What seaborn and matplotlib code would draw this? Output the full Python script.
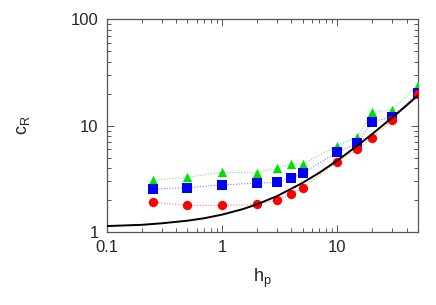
import numpy as np
import pandas as pd
import matplotlib
matplotlib.use("Agg")
import matplotlib.pyplot as plt
import seaborn as sns

# ==========================================================
# DATA
# ==========================================================

hp = [0.25, 0.5, 1, 2, 3, 4, 5, 10, 15, 20, 30, 50]

cr_red = [1.91, 1.78, 1.78, 1.82, 2.01, 2.29, 2.6, 4.6, 6.04, 7.66, 11.3, 19.8]
cr_blue = [2.53, 2.62, 2.78, 2.88, 2.94, 3.23, 3.57, 5.62, 6.83, 10.9, 12.0, 20.1]
cr_green = [3.07, 3.28, 3.65, 3.6, 4.0, 4.37, 4.34, 6.49, 7.88, 13.3, 14.1, 24.0]

curve_hp = [0.1, 0.2, 0.3, 0.5, 0.7, 1, 1.5, 2, 3, 5, 7, 10, 15, 20, 30, 40, 50]
curve_cr = [1.14, 1.17, 1.21, 1.28, 1.35, 1.46, 1.64, 1.82, 2.18, 2.9, 3.62, 4.7,
            6.5, 8.3, 11.9, 15.5, 19.1]

# ==========================================================
# PLOT
# ==========================================================

sns.set_style("ticks")
plt.rcParams["font.family"] = ["Liberation Sans", "DejaVu Sans"]
plt.rcParams["mathtext.fontset"] = "custom"
plt.rcParams["mathtext.rm"] = "Liberation Sans"

fig = plt.figure(figsize=(4.36, 3.05), dpi=100)
ax = fig.add_axes([0.2454, 0.239, 0.7126, 0.698])

series = [
    (cr_green, "#00e000", "^", "#7be07b"),
    (cr_blue, "#0000ff", "s", "#8080ff"),
    (cr_red, "#ff0000", "o", "#ff8080"),
]

for vals, col, mk, lcol in series:
    df = pd.DataFrame({"hp": hp, "cr": vals})
    sns.lineplot(data=df, x="hp", y="cr", ax=ax, color=lcol,
                 linestyle=(0, (1, 1.5)), linewidth=0.8, sort=False)
    sns.scatterplot(data=df, x="hp", y="cr", ax=ax, color=col, marker=mk,
                    s=45, edgecolor=col, linewidth=0, zorder=3)

curve = pd.DataFrame({"hp": curve_hp, "cr": curve_cr})
sns.lineplot(data=curve, x="hp", y="cr", ax=ax, color="black",
             linewidth=1.4, zorder=4)

ax.set_xscale("log")
ax.set_yscale("log")
ax.set_xlim(0.1, 50)
ax.set_ylim(1, 100)

ax.set_xticks([0.1, 1, 10])
ax.set_xticklabels(["0.1", "1", "10"])
ax.set_yticks([1, 10, 100])
ax.set_yticklabels(["1", "10", "100"])

ax.tick_params(which="both", direction="in", top=True, right=True,
               color="#555555", labelsize=12, width=0.7)
ax.tick_params(which="major", length=5, pad=6)
ax.tick_params(which="minor", length=3)
for sp in ax.spines.values():
    sp.set_color("#555555")
    sp.set_linewidth(0.9)

ax.set_xlabel(r"$\mathregular{h_p}$", fontsize=13, labelpad=8)
ax.set_ylabel(r"$\mathregular{c_R}$", fontsize=13, labelpad=28)

plt.savefig("out.png", dpi=100)
plt.close()
